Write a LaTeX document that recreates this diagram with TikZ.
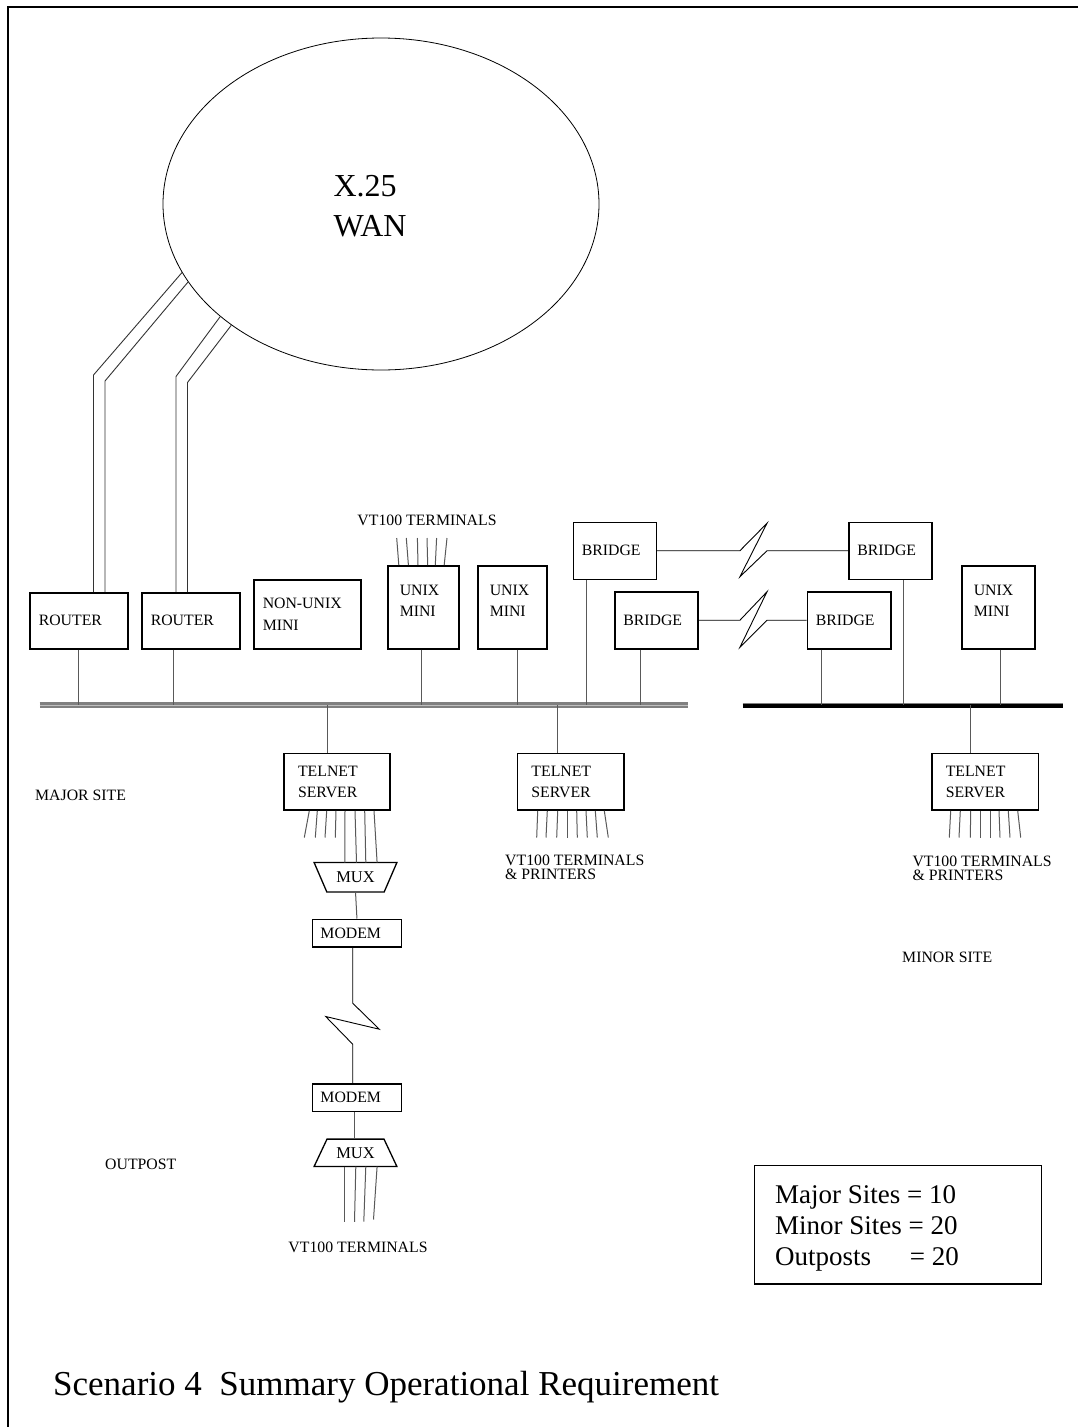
\documentclass[tikz,border=0pt]{standalone}
\usepackage{fontspec}
\setmainfont{Liberation Serif}
\usetikzlibrary{shapes.geometric,calc}
\newcommand{\lblfont}{\fontsize{15.8}{21}\selectfont}
\newcommand{\vtfont}{\fontsize{15.8}{13.4}\selectfont}
\newcommand{\sumfont}{\fontsize{27}{31}\selectfont}
\begin{document}
\begin{tikzpicture}[x=1pt,y=-1pt,
  box/.style={draw=black, line width=1.5pt, align=left, inner xsep=9pt, inner ysep=0pt, anchor=north west, font=\lblfont},
  mini/.style={box, inner xsep=12pt, minimum height=83pt, text depth=34pt},
  wire/.style={draw=black!65, line width=1pt},
  link/.style={draw=black, line width=0.9pt},
  muxline/.style={draw=black, line width=1.3pt},
  lbl/.style={font=\lblfont, inner sep=0pt},
  ]
\useasboundingbox (0,0) rectangle (1078,1427);
\clip (0,0) rectangle (1078,1427);
\fill[white] (0,0) rectangle (1078,1427);
% frame (only its top and left edges fall inside the picture)
\draw[line width=2.5pt] (1090,7) -- (8,7) -- (8,1440);

% WAN
\node[draw, ellipse, line width=0.8pt, minimum width=436pt, minimum height=332pt, inner sep=0pt] (wan) at (381,204) {};
\node[align=left, inner sep=0pt, font=\fontsize{32}{40}\selectfont] (wanlbl) at (370,206) {X.25\\WAN};

% major site boxes
\node[box, text width=80pt, minimum height=56pt] (r1) at (29,592) {ROUTER};
\node[box, text width=80pt, minimum height=56pt] (r2) at (141,592) {ROUTER};
\node[box, text width=89pt, minimum height=69pt] (nu) at (253,579) {NON-UNIX\\[1pt]MINI};
\node[mini, text width=47pt] (um1) at (387,565) {UNIX\\MINI};
\node[mini, text width=45pt] (um2) at (477,565) {UNIX\\MINI};
\node[box, inner xsep=8.5pt, text width=66pt, minimum height=57pt] (brA) at (572.5,521.5) {BRIDGE};
\node[box, inner xsep=8.5pt, text width=66pt, minimum height=57pt] (brB) at (614,591) {BRIDGE};
% minor site boxes
\node[box, inner xsep=8.5pt, text width=66pt, minimum height=57pt] (brC) at (848,521.5) {BRIDGE};
\node[box, inner xsep=8.5pt, text width=66.5pt, minimum height=57pt] (brD) at (806.5,591) {BRIDGE};
\node[mini, text width=49pt] (um3) at (961,565) {UNIX\\MINI};

% buses
\coordinate (bus) at (0,705);
\coordinate (busLa) at (39.6,705);
\coordinate (busLb) at (688,705);
\coordinate (busRa) at (742.5,705);
\coordinate (busRb) at (1062.6,705);
\draw[line width=5.5pt, black!50] (busLa) -- (busLb);
\draw[line width=1pt, black!25] (busLa) -- (busLb);
\draw[line width=3.5pt, black] ([yshift=-0.8pt]busRa) -- ([yshift=-0.8pt]busRb);
\draw[line width=1pt, black!50] ([yshift=2pt]busRa) -- ([yshift=2pt]busRb);

% router double lines to the WAN
\coordinate (a1o) at (93.5,375);
\coordinate (a1i) at (105,381);
\coordinate (a2o) at (176,376.5);
\coordinate (a2i) at (187.5,382.5);
\draw[draw=black!80, line width=0.9pt] (wan.199.5) -- (a1o) -- (a1o |- r1.north);
\draw[draw=black!80, line width=0.9pt] (wan.202.7) -- (a1i) -- (a1i |- r1.north);
\draw[draw=black!80, line width=0.9pt] (wan.215.4) -- (a2o) -- (a2o |- r2.north);
\draw[draw=black!80, line width=0.9pt] (wan.219.2) -- (a2i) -- (a2i |- r2.north);

% drops to buses
\draw[wire] (r1.south) coordinate (d1) -- (d1 |- bus);
\draw[wire] ([xshift=32.9pt]r2.south west) coordinate (d2) -- (d2 |- bus);
\draw[wire] ([xshift=34.5pt]um1.south west) coordinate (d3) -- (d3 |- bus);
\draw[wire] ([xshift=40.6pt]um2.south west) coordinate (d4) -- (d4 |- bus);
\draw[wire] ([xshift=14.2pt]brA.south west) coordinate (d5) -- (d5 |- bus);
\draw[wire] ([xshift=26.5pt]brB.south west) coordinate (d6) -- (d6 |- bus);
\draw[wire] ([xshift=14.9pt]brD.south west) coordinate (d7) -- (d7 |- bus);
\draw[wire] ([xshift=55.8pt]brC.south west) coordinate (d8) -- (d8 |- bus);
\draw[wire] ([xshift=39pt]um3.south west) coordinate (d9) -- (d9 |- bus);

% VT100 terminals on unix mini
\node[lbl] (vt1) at (427,520) {VT100 TERMINALS};
\foreach \s/\d in {11.8/-2.1, 21.4/-2.1, 31/-0.6, 40.7/-0.7, 48.3/1.3, 57.2/2.8}
  \draw[wire] ([xshift=\s pt]um1.north west) -- ++(\d,-27);

% bridge links
\draw[link] (brA.east) -- ++(82.9,0) -- ++(27.1,-27.5) -- ++(-27.1,53.5) -- ++(27.1,-26) -- (brC.west);
\draw[link] (brB.east) -- ++(41.4,0) -- ++(27.1,-28.5) -- ++(-27.1,55.5) -- ++(27.1,-27) -- (brD.west);

% telnet servers
\node[box, inner xsep=14pt, text width=78pt, minimum height=56.6pt] (t1) at (283.3,752.7) {TELNET\\SERVER};
\node[box, inner xsep=14pt, text width=78.6pt, minimum height=56.6pt] (t2) at (516.7,752.7) {TELNET\\SERVER};
\node[box, inner xsep=14pt, text width=78.7pt, minimum height=56.6pt] (t3) at (931,752.7) {TELNET\\SERVER};
\draw[wire] ([xshift=44.2pt]t1.north west) coordinate (u1) -- (u1 |- bus);
\draw[wire] ([xshift=41pt]t2.north west) coordinate (u2) -- (u2 |- bus);
\draw[wire] ([xshift=39.7pt]t3.north west) coordinate (u3) -- (u3 |- bus);

\foreach \s/\d in {26/-5, 34/-2, 43.4/-1.7, 52.7/-0.7}
  \draw[wire] ([xshift=\s pt]t1.south west) -- ++(\d,26.7);
\foreach \s/\d in {21/-1, 30.6/-1.3, 41/-1, 50.6/0, 60/0.6, 69.3/1.3, 78.6/2, 87.6/4}
  \draw[wire] ([xshift=\s pt]t2.south west) -- ++(\d,26.7);
\foreach \s/\d in {19.7/-1.4, 29.3/-1.3, 39.7/-0.4, 49.3/0, 59/0, 68/1, 77.3/1.7, 86.7/3}
  \draw[wire] ([xshift=\s pt]t3.south west) -- ++(\d,26.7);

\node[lbl, anchor=north west, align=left, font=\vtfont] (vt2) at (505,855) {VT100 TERMINALS\\\& PRINTERS};
\node[lbl, anchor=north west, align=left, font=\vtfont] (vt3) at (912.3,856) {VT100 TERMINALS\\\& PRINTERS};

% mux / modem chain
\node[inner sep=0pt, minimum width=82.4pt, minimum height=29pt, font=\fontsize{16.5}{20}\selectfont] (mux1) at (355.5,877.2) {MUX};
\draw[muxline] (mux1.north west) -- (mux1.north east) -- ([xshift=-12.7pt]mux1.south east) -- ([xshift=12.7pt]mux1.south west) -- cycle;
\foreach \s/\e in {61.7/30.7, 71.7/42.4, 81.4/51.7, 90.7/63}
  \draw[wire] ([xshift=\s pt]t1.south west) -- ([xshift=\e pt]mux1.north west);

\node[box, inner xsep=8pt, text width=73pt, minimum height=27.5pt] (m1) at (311.7,918.5) {MODEM};
\draw[wire] (mux1.south) -- (m1.north);
\node[box, inner xsep=8pt, text width=73pt, minimum height=27.5pt] (m2) at (311.7,1083.3) {MODEM};
\draw[link] ([xshift=41pt]m1.south west) -- ++(0,55.7) -- ++(26.6,26) -- ++(-53.6,-12.7) -- ++(27,27.7) -- ([xshift=41pt]m2.north west);

\node[inner sep=0pt, minimum width=82.4pt, minimum height=27pt, font=\fontsize{16.5}{20}\selectfont] (mux2) at (355.5,1152.8) {MUX};
\draw[muxline] ([xshift=12.9pt]mux2.north west) -- ([xshift=-12.9pt]mux2.north east) -- (mux2.south east) -- (mux2.south west) -- cycle;
\draw[wire] ([xshift=42.6pt]m2.south west) coordinate (m2b) -- (m2b |- mux2.north);
\foreach \s/\d/\l in {30.7/0/55.4, 41.7/-1.3/55.4, 51.7/-2/55, 63/-3.6/53}
  \draw[wire] ([xshift=\s pt]mux2.south west) -- ++(\d,\l);
\node[lbl] (vt4) at (358,1247) {VT100 TERMINALS};

% site labels
\node[lbl, anchor=west] (major) at (35,795) {MAJOR SITE};
\node[lbl, anchor=west] (minor) at (902,957) {MINOR SITE};
\node[lbl, anchor=west] (outpost) at (105,1164) {OUTPOST};

% summary
\node[box, line width=1.3pt, minimum width=286.7pt, minimum height=118.6pt] (sum) at (754,1164.7) {};
\node[anchor=north west, align=left, inner sep=0pt, font=\sumfont] (sumtxt) at (775,1185) {Major Sites = 10\\Minor Sites = 20\\Outposts\hspace{32pt} = 20};

% title
\node[anchor=base west, inner sep=0pt, font=\fontsize{35}{40}\selectfont] (title) at (53,1395) {Scenario 4\ \ Summary Operational Requirement};
\end{tikzpicture}
\end{document}
